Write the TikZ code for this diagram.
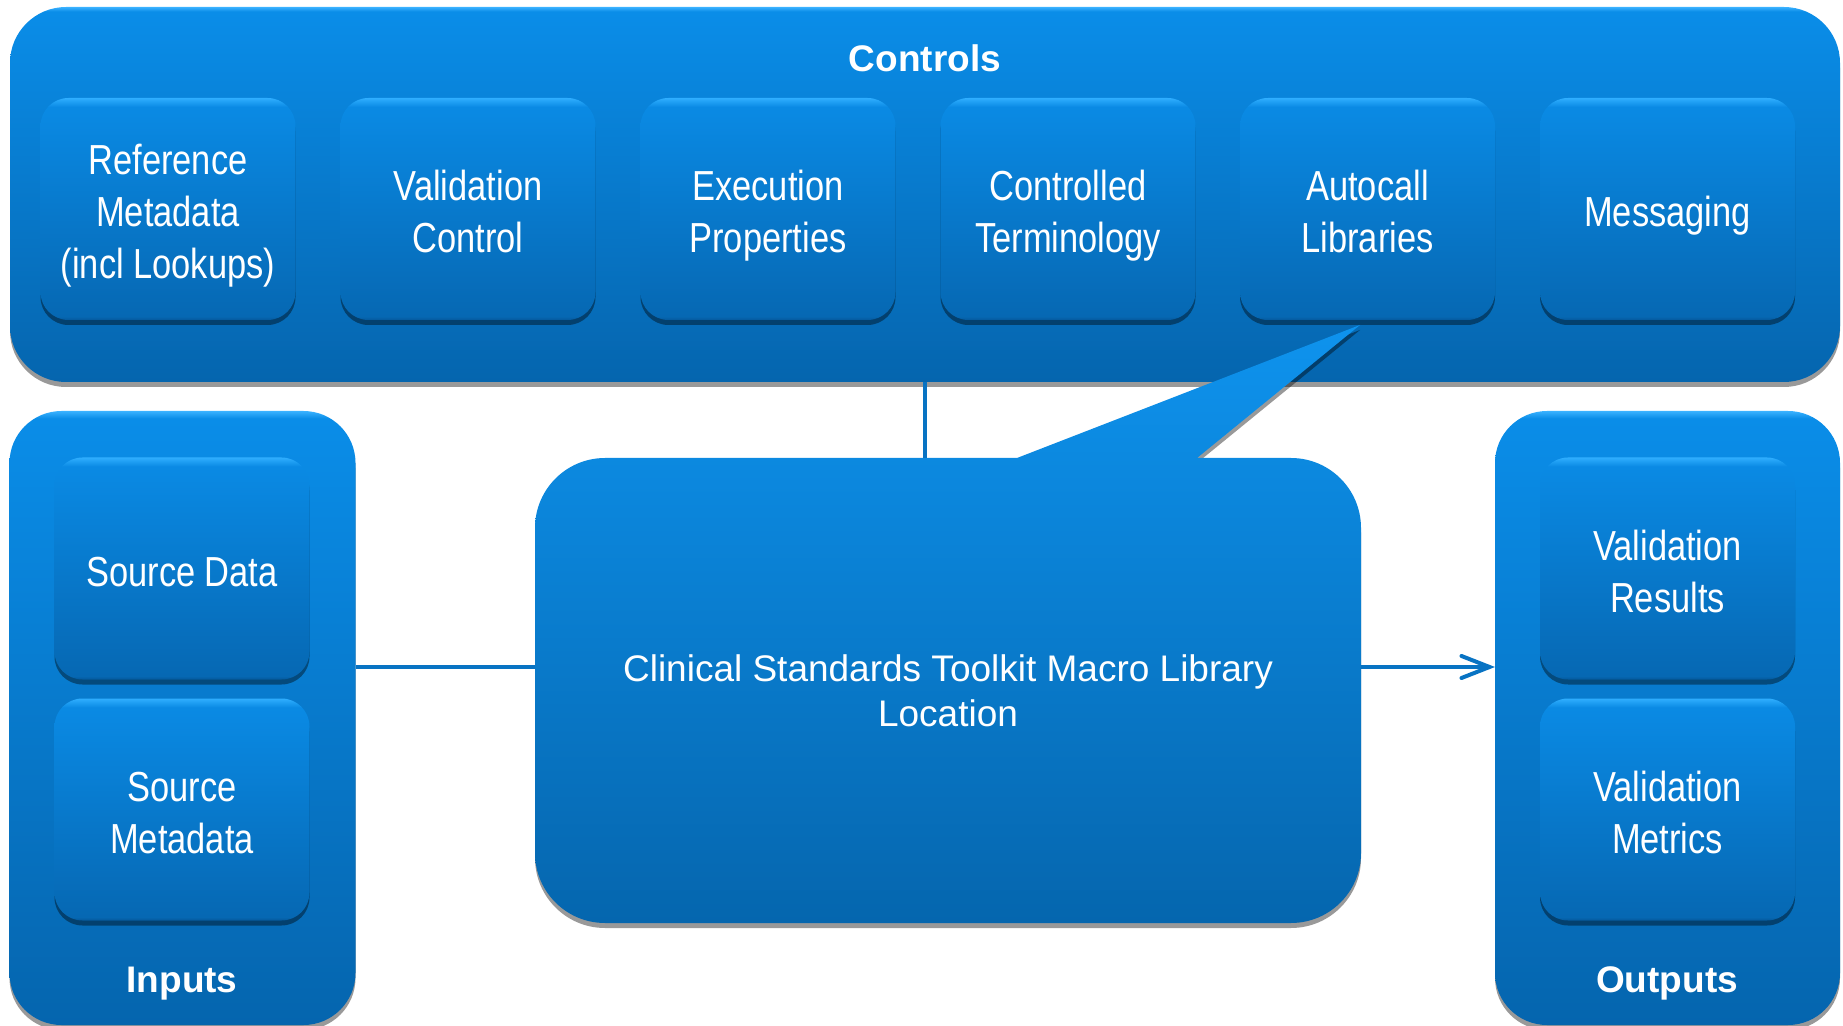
\documentclass[tikz,border=0pt]{standalone}
\usepackage{fontspec}
\setmainfont{Liberation Sans}
\newfontfamily\narrowfont[FakeStretch=0.82]{Liberation Sans}
\usetikzlibrary{shadows,arrows.meta}
\definecolor{otop}{HTML}{0A8DE8}
\definecolor{obot}{HTML}{0565AE}
\definecolor{ohl}{HTML}{3AB2FF}
\definecolor{itop}{HTML}{0A8AE4}
\definecolor{ibot}{HTML}{0668B3}
\definecolor{idark}{HTML}{05599C}
\definecolor{ihl}{HTML}{2FAEFF}
\definecolor{ctop}{HTML}{0E93EE}
\definecolor{cbot}{HTML}{0566AE}
\definecolor{linecol}{HTML}{0873C3}
\newcommand\boxstrut{\rule[-4.2pt]{0pt}{26pt}}
\pgfdeclareverticalshading{outershade}{100bp}{color(0bp)=(obot); color(25bp)=(obot); color(74.4bp)=(otop); color(75bp)=(ohl); color(100bp)=(ohl)}
\pgfdeclareverticalshading{innershade}{100bp}{color(0bp)=(idark); color(25bp)=(idark); color(25.8bp)=(ibot); color(73bp)=(itop); color(75bp)=(ihl); color(100bp)=(ihl)}
\tikzset{
  shad/.style={drop shadow={shadow xshift=0pt, shadow yshift=-2.5pt, opacity=0.4, fill=black}},
  outerbox/.style={shade, shading=outershade, shad, rounded corners=28pt, outer sep=0pt, inner sep=0pt},
  innerbox/.style={shade, shading=innershade, shad, rounded corners=14pt, outer sep=0pt, inner sep=0pt,
    minimum width=127.5pt, minimum height=111pt, align=center, text=white,
    font=\narrowfont\fontsize{21pt}{26pt}\selectfont},
  grouplabel/.style={text=white, font=\bfseries\fontsize{18.5pt}{22pt}\selectfont},
  conn/.style={draw=linecol, line width=2pt},
}
\begin{document}
\begin{tikzpicture}[x=0.5pt, y=-0.5pt]
\useasboundingbox (0,0) rectangle (1843,1026);
% Controls group
\node[outerbox, minimum width=915pt, minimum height=187.5pt] (controls) at (925,194.5) {};
\node[grouplabel] (controlslbl) at (925,58) {Controls};
\node[innerbox] (refmeta) at (168,209) {\boxstrut Reference\\\boxstrut Metadata\\\boxstrut (incl Lookups)};
\node[innerbox] (valctl) at (468,209) {\boxstrut Validation\\\boxstrut Control};
\node[innerbox] (execprop) at (768,209) {\boxstrut Execution\\\boxstrut Properties};
\node[innerbox] (ctlterm) at (1068,209) {\boxstrut Controlled\\\boxstrut Terminology};
\node[innerbox] (autocall) at (1367.5,209) {\boxstrut Autocall\\\boxstrut Libraries};
\node[innerbox] (msg) at (1667.5,209) {\boxstrut Messaging};
% Inputs group
\node[outerbox, rounded corners=26pt, minimum width=173pt, minimum height=307pt] (inputs) at (182.5,718) {};
\node[innerbox] (srcdata) at (182,568.5) {\boxstrut Source Data};
\node[innerbox] (srcmeta) at (182,809.5) {\boxstrut Source\\\boxstrut Metadata};
\node[grouplabel] (inputslbl) at (182,983.5) {Inputs};
% Outputs group
\node[outerbox, rounded corners=26pt, minimum width=172.5pt, minimum height=307pt] (outputs) at (1667.5,718) {};
\node[innerbox] (valres) at (1667.5,568.5) {\boxstrut Validation\\\boxstrut Results};
\node[innerbox] (valmet) at (1667.5,809.5) {\boxstrut Validation\\\boxstrut Metrics};
\node[grouplabel] (outputslbl) at (1667,983.5) {Outputs};
% Callout
\path[shade, top color=ctop, bottom color=cbot, shad]
  (535,528) arc[start angle=180, end angle=90, radius=35pt]
  -- (1017,458) -- (1360,325) -- (1197,458) -- (1291,458)
  arc[start angle=90, end angle=0, radius=35pt]
  -- (1361,853) arc[start angle=0, end angle=-90, radius=35pt]
  -- (605,923) arc[start angle=-90, end angle=-180, radius=35pt]
  -- cycle;
\node[minimum width=413pt, minimum height=232.5pt, inner sep=0pt, outer sep=0pt, align=center, text=white,
  font=\fontsize{18.5pt}{22.5pt}\selectfont] (core) at (948,690.5)
  {Clinical Standards Toolkit Macro Library\\Location};
% Connectors
\coordinate (ly) at (0,667);
\draw[conn] (controls.south) -- (controls.south |- core.north);
\draw[conn] (inputs.east |- ly) -- (core.west |- ly);
\draw[conn, -{Straight Barb[length=14pt, width=11pt, line cap=round]}] (core.east |- ly) -- (outputs.west |- ly);
\end{tikzpicture}
\end{document}
